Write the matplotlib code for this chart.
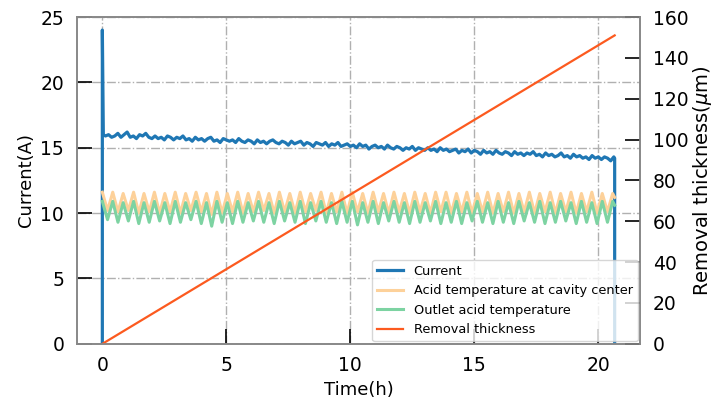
import numpy as np
import matplotlib.pyplot as plt

# =============================
# Data
# =============================
# current sampled every 0.125 h after the start-up spike
current_step = 0.125
current_start = [0.0, 24.0, 16.0]          # at t = 0, 0, 0.04
current_body = [
    15.9, 16.0, 15.8, 15.9, 16.1, 15.8, 16.0, 16.2,
    15.8, 15.9, 15.7, 16.0, 15.9, 16.1, 15.8, 15.7,
    15.9, 15.7, 15.8, 15.6, 15.9, 15.8, 15.6, 15.8,
    15.7, 15.9, 15.6, 15.7, 15.5, 15.8, 15.6, 15.7,
    15.5, 15.7, 15.8, 15.5, 15.6, 15.4, 15.7, 15.6,
    15.5, 15.6, 15.4, 15.7, 15.5, 15.4, 15.6, 15.5,
    15.3, 15.6, 15.4, 15.5, 15.3, 15.5, 15.6, 15.4,
    15.3, 15.5, 15.4, 15.2, 15.5, 15.3, 15.4, 15.5,
    15.2, 15.4, 15.3, 15.1, 15.4, 15.3, 15.2, 15.4,
    15.1, 15.3, 15.2, 15.4, 15.1, 15.2, 15.3, 15.1,
    15.2, 15.0, 15.3, 15.1, 15.2, 14.9, 15.1, 15.2,
    15.0, 15.1, 14.9, 15.2, 15.0, 14.9, 15.1, 15.0,
    14.8, 15.0, 14.9, 15.1, 14.8, 15.0, 14.9, 14.8,
    15.0, 14.8, 14.9, 14.7, 15.0, 14.8, 14.9, 14.7,
    14.8, 14.9, 14.6, 14.8, 14.7, 14.9, 14.6, 14.8,
    14.7, 14.5, 14.8, 14.6, 14.7, 14.5, 14.8, 14.6,
    14.5, 14.7, 14.6, 14.4, 14.7, 14.5, 14.6, 14.4,
    14.6, 14.5, 14.7, 14.4, 14.5, 14.3, 14.6, 14.4,
    14.5, 14.3, 14.4, 14.6, 14.3, 14.4, 14.2, 14.5,
    14.3, 14.4, 14.2, 14.3, 14.1, 14.4, 14.2, 14.3,
    14.1, 14.3, 14.2, 14.0, 14.3,
]
current_end_t = 20.66
current_end = [14.2, 0.0]

# temperature curves: alternating peak / trough samples
temp_t = [
    0.00, 0.21, 0.42, 0.63, 0.84, 1.05, 1.26, 1.47, 1.68, 1.89, 2.10, 2.31, 2.52, 2.73,
    2.94, 3.15, 3.36, 3.57, 3.78, 3.99, 4.20, 4.41, 4.62, 4.83, 5.04, 5.25, 5.46, 5.67,
    5.88, 6.09, 6.30, 6.51, 6.72, 6.93, 7.14, 7.35, 7.56, 7.77, 7.98, 8.19, 8.40, 8.61,
    8.82, 9.03, 9.24, 9.45, 9.66, 9.87, 10.08, 10.29, 10.50, 10.71, 10.92, 11.13, 11.34,
    11.55, 11.76, 11.97, 12.18, 12.39, 12.60, 12.81, 13.02, 13.23, 13.44, 13.65, 13.86,
    14.07, 14.28, 14.49, 14.70, 14.91, 15.12, 15.33, 15.54, 15.75, 15.96, 16.17, 16.38,
    16.59, 16.80, 17.01, 17.22, 17.43, 17.64, 17.85, 18.06, 18.27, 18.48, 18.69, 18.90,
    19.11, 19.32, 19.53, 19.74, 19.95, 20.16, 20.37, 20.58, 20.66,
]
temp_center = [
    11.6, 10.2, 11.6, 10.1, 11.5, 10.2, 11.6, 10.0, 11.5, 10.1, 11.6, 10.0, 11.5, 10.1,
    11.6, 10.0, 11.5, 10.2, 11.6, 10.1, 11.5, 9.9, 11.6, 10.0, 11.5, 10.1, 11.6, 10.0,
    11.5, 10.1, 11.6, 10.2, 11.5, 10.0, 11.6, 10.1, 11.5, 10.0, 11.6, 10.1, 11.5, 10.2,
    11.6, 10.0, 11.5, 10.1, 11.6, 10.0, 11.6, 10.1, 11.5, 10.0, 11.6, 10.1, 11.5,
    10.0, 11.6, 10.1, 11.5, 10.0, 11.6, 10.1, 11.5, 10.0, 11.6, 10.1, 11.6,
    10.0, 11.5, 10.1, 11.6, 10.0, 11.5, 10.1, 11.6, 10.0, 11.5, 10.1, 11.6,
    10.0, 11.5, 10.1, 11.6, 10.0, 11.5, 10.1, 11.6, 10.0, 11.5, 10.1, 11.6,
    10.0, 11.5, 10.1, 11.6, 10.0, 11.5, 10.1, 11.5, 11.2,
]
temp_outlet = [
    10.9, 9.5, 10.9, 9.3, 10.8, 9.4, 10.9, 9.2, 10.8, 9.3, 10.9, 9.4, 10.8, 9.2,
    10.9, 9.3, 10.8, 9.5, 10.9, 9.2, 10.8, 9.0, 10.9, 9.3, 10.8, 9.2, 10.9, 9.3,
    10.8, 9.4, 10.9, 9.3, 10.8, 9.2, 10.9, 9.4, 10.8, 9.3, 10.9, 9.2, 10.8, 9.4,
    10.9, 9.3, 10.8, 9.2, 10.9, 9.3, 10.9, 9.1, 10.8, 9.3, 10.9, 9.2, 10.8,
    9.4, 10.9, 9.3, 10.8, 9.2, 10.9, 9.3, 10.8, 9.4, 10.9, 9.2, 10.8,
    9.3, 10.9, 9.2, 10.8, 9.4, 10.9, 9.3, 10.8, 9.2, 10.9, 9.3, 10.8,
    9.2, 10.9, 9.4, 10.8, 9.3, 10.9, 9.2, 10.8, 9.3, 10.9, 9.4, 10.8,
    9.2, 10.9, 9.3, 10.8, 9.2, 10.9, 9.3, 10.9, 10.6,
]

removal_t = [0.0, 20.66]
removal = [0.0, 151.0]

# build the current series (sampling grid only)
current_t = np.concatenate([
    [0.0, 0.0, 0.04],
    np.arange(1, len(current_body) + 1) * current_step,
    [current_end_t, current_end_t],
])
current = np.concatenate([current_start, current_body, current_end])

# =============================
# Plot
# =============================
plt.rcParams["font.family"] = "DejaVu Sans"

fig, ax = plt.subplots(figsize=(7.17, 4.05), dpi=100)
fig.subplots_adjust(left=0.107, right=0.893, top=0.958, bottom=0.151)

l1, = ax.plot(current_t, current, color="#1f77b4", lw=2.3, label="Current")
l2, = ax.plot(temp_t, temp_center, color="#fdd19a", lw=2.2,
              label="Acid temperature at cavity center")
l3, = ax.plot(temp_t, temp_outlet, color="#7dd3a2", lw=2.2,
              label="Outlet acid temperature")

ax2 = ax.twinx()
l4, = ax2.plot(removal_t, removal, color="#fc5a1f", lw=1.6, label="Removal thickness")

ax.set_ylim(0, 25)
ax2.set_ylim(0, 160)
ax.set_xlabel("Time(h)", fontsize=13)
ax.set_ylabel("Current(A)", fontsize=13)
ax2.set_ylabel(r"Removal thickness($\mu$m)", fontsize=14, labelpad=2)

ax.set_xticks([0, 5, 10, 15, 20])
ax.set_yticks([0, 5, 10, 15, 20, 25])
ax2.set_yticks([0, 20, 40, 60, 80, 100, 120, 140, 160])

ax.grid(True, linestyle="-.", color="#b0b0b0", lw=1.0)
ax.tick_params(direction="in", length=10.5, width=1.2, labelsize=13.5, pad=9)
ax2.tick_params(direction="in", length=10.5, width=1.2, labelsize=13.5, pad=9)

for a in (ax, ax2):
    for s in a.spines.values():
        s.set_color("#888888")
        s.set_linewidth(1.2)

ax2.legend(handles=[l1, l2, l3, l4], loc="lower right", fontsize=9.3,
           framealpha=0.8, borderaxespad=0.2)

plt.savefig("out.png", dpi=100)
plt.close()
